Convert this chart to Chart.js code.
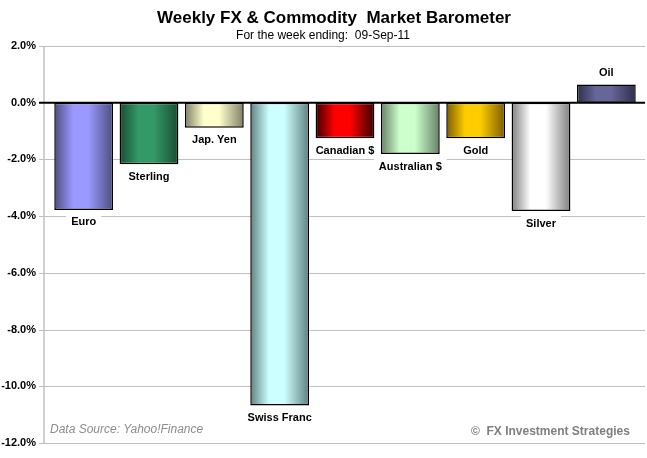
<!DOCTYPE html>
<html>
<head>
<meta charset="utf-8">
<script src="https://cdn.jsdelivr.net/npm/chart.js@4/dist/chart.umd.min.js"></script>
<style>
html,body{margin:0;padding:0;background:#fff;}
#wrap{width:647px;height:458px;position:relative;}
</style>
</head>
<body>
<div id="wrap"><canvas id="c" width="647" height="458"></canvas></div>
<script>
const categories = ['Euro','Sterling','Jap. Yen','Swiss Franc','Canadian $','Australian $','Gold','Silver','Oil'];
const weeklyChange = [-3.78, -2.17, -0.88, -10.68, -1.25, -1.81, -1.25, -3.82, 0.64];
const yTickMin = -12, yTickMax = 2, yTickStep = 2;
const edgeColors = ['#4d4d80','#1a4d33','#7f7f66','#5f8080','#3a0000','#668066','#7a5c00','#7f7f7f','#2e2e4d'];
const centerColors = ['#9999ff','#339966','#ffffcc','#ccffff','#ff0000','#ccffcc','#ffcc00','#ffffff','#666699'];
const titleText = 'Weekly FX & Commodity  Market Barometer';
const subtitleText = 'For the week ending:  09-Sep-11';
const sourceText = 'Data Source: Yahoo!Finance';
const copyrightText = '\u00A9  FX Investment Strategies';

const BAR_PCT = 0.9;

function barFill(ctx){
  const i = ctx.dataIndex;
  const chart = ctx.chart;
  const xs = chart.scales && chart.scales.x;
  if (!xs || !chart.chartArea || !xs.width) return centerColors[i];
  const c = xs.getPixelForValue(i);
  const half = xs.width / categories.length * BAR_PCT / 2;
  const g = chart.ctx.createLinearGradient(c - half, 0, c + half, 0);
  g.addColorStop(0, edgeColors[i]);
  g.addColorStop(0.32, centerColors[i]);
  g.addColorStop(0.58, centerColors[i]);
  g.addColorStop(1, edgeColors[i]);
  return g;
}

const decor = {
  id: 'decor',
  beforeDraw(chart){
    const ctx = chart.ctx;
    ctx.save();
    ctx.fillStyle = '#fff';
    ctx.fillRect(0,0,chart.width,chart.height);
    ctx.restore();
  },
  beforeDatasetsDraw(chart){
    const ctx = chart.ctx, ys = chart.scales.y;
    ctx.save();
    ctx.strokeStyle = '#c0c0c0';
    ctx.lineWidth = 1;
    ys.ticks.forEach(t => {
      if (t.value === 0) return;
      const y = Math.round(ys.getPixelForValue(t.value)) + 0.5;
      ctx.beginPath(); ctx.moveTo(39, y); ctx.lineTo(645, y); ctx.stroke();
    });
    ctx.lineWidth = 1.5;
    ctx.beginPath();
    ctx.moveTo(44, ys.getPixelForValue(yTickMax));
    ctx.lineTo(44, ys.getPixelForValue(yTickMin));
    ctx.stroke();
    ctx.restore();
  },
  afterDatasetsDraw(chart){
    const ctx = chart.ctx, ys = chart.scales.y;
    ctx.save();
    const y0 = ys.getPixelForValue(0);
    ctx.strokeStyle = '#000';
    ctx.lineWidth = 2;
    ctx.beginPath(); ctx.moveTo(39, y0); ctx.lineTo(645, y0); ctx.stroke();
    const meta = chart.getDatasetMeta(0);
    ctx.font = 'bold 11px "Liberation Sans", Arial, sans-serif';
    ctx.textAlign = 'center';
    ctx.textBaseline = 'middle';
    meta.data.forEach((el, i) => {
      const v = weeklyChange[i];
      const ly = v < 0 ? el.y + 12 : el.y - 12;
      const w = ctx.measureText(categories[i]).width;
      ctx.fillStyle = '#fff';
      ctx.fillRect(el.x - w/2 - 5, ly - 7, w + 10, 14);
      ctx.fillStyle = '#000';
      ctx.fillText(categories[i], el.x, ly + 0.5);
    });
    ctx.restore();
  },
  afterDraw(chart){
    const ctx = chart.ctx;
    ctx.save();
    ctx.textAlign = 'center';
    ctx.textBaseline = 'middle';
    ctx.fillStyle = '#000';
    ctx.font = 'bold 17px "Liberation Sans", Arial, sans-serif';
    ctx.fillText(titleText, 334, 18);
    ctx.font = '12px "Liberation Sans", Arial, sans-serif';
    ctx.fillText(subtitleText, 323, 36);
    ctx.textAlign = 'left';
    ctx.font = 'italic 12px "Liberation Sans", Arial, sans-serif';
    ctx.fillStyle = '#8c8c8c';
    ctx.fillText(sourceText, 50, 430);
    ctx.font = 'bold 12px "Liberation Sans", Arial, sans-serif';
    ctx.fillStyle = '#808080';
    ctx.fillText(copyrightText, 471, 432);
    ctx.restore();
  }
};

new Chart(document.getElementById('c'), {
  type: 'bar',
  data: {
    labels: categories,
    datasets: [{
      data: weeklyChange,
      backgroundColor: barFill,
      borderColor: '#000',
      borderWidth: 1.5,
      borderSkipped: false,
      barPercentage: BAR_PCT,
      categoryPercentage: 1.0
    }]
  },
  options: {
    responsive: false,
    animation: false,
    devicePixelRatio: 1,
    layout: { padding: { left: 0, right: 8, top: 46, bottom: 15 } },
    plugins: { legend: { display: false }, tooltip: { enabled: false }, title: { display: false } },
    scales: {
      x: { display: false, offset: true },
      y: {
        min: yTickMin, max: yTickMax,
        grid: { display: false, drawTicks: true, tickLength: 15 },
        border: { display: false },
        afterFit(scale){ scale.width = 51; },
        ticks: {
          stepSize: yTickStep,
          padding: 0,
          color: '#000',
          font: { family: '"Liberation Sans", Arial, sans-serif', size: 11, weight: 'bold' },
          callback: v => v.toFixed(1) + '%'
        }
      }
    }
  },
  plugins: [decor]
});
</script>
</body>
</html>
